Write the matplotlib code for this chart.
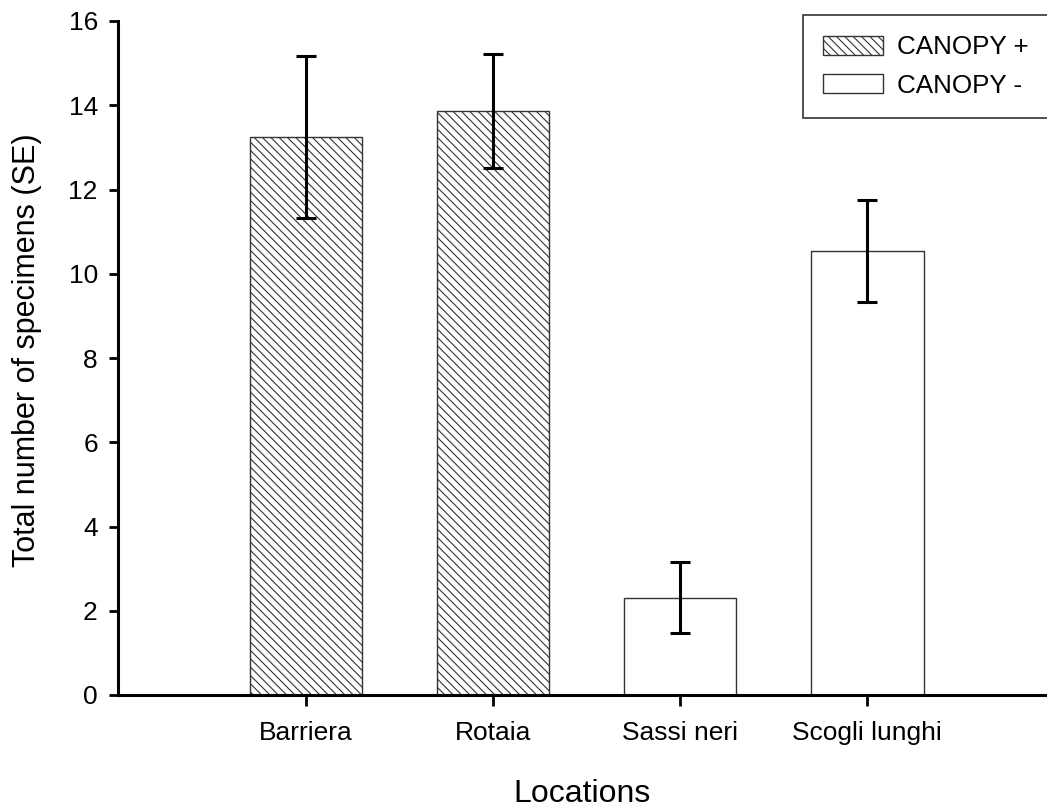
import matplotlib
matplotlib.use("Agg")
import matplotlib.pyplot as plt
import numpy as np
from matplotlib.patches import Patch

locations = ["Barriera", "Rotaia", "Sassi neri", "Scogli lunghi"]
means = [13.25, 13.86, 2.31, 10.53]
se = [1.93, 1.36, 0.85, 1.21]
canopy = ["CANOPY +", "CANOPY +", "CANOPY -", "CANOPY -"]

plt.rcParams['font.family'] = ['Liberation Sans', 'DejaVu Sans']
plt.rcParams['hatch.linewidth'] = 0.8
plt.rcParams['hatch.color'] = '#333333'

fig = plt.figure(figsize=(10.47, 8.09), dpi=100)
ax = fig.add_axes([118/1047, 1-695/809, 1-118/1047, (695-21)/809])

x = np.arange(len(locations))
for xi, m, e, c in zip(x, means, se, canopy):
    hatch = '\\\\\\\\' if c == "CANOPY +" else None
    ax.bar(xi, m, width=0.6, color='white', edgecolor='#333333', linewidth=1.0,
           hatch=hatch, zorder=2)
    ax.errorbar(xi, m, yerr=e, fmt='none', ecolor='black', elinewidth=2.2,
                capsize=7.5, capthick=2.2, zorder=3)

ax.set_xlim(-1.005, 3.96)
ax.set_ylim(0, 16)
ax.set_yticks(np.arange(0, 17, 2))
ax.set_xticks(x)
ax.set_xticklabels(locations)

for s in ['top', 'right']:
    ax.spines[s].set_visible(False)
for s in ['left', 'bottom']:
    ax.spines[s].set_linewidth(2.2)

ax.tick_params(axis='y', direction='out', length=6.5, width=2, labelsize=19, pad=8)
ax.tick_params(axis='x', direction='out', length=8, width=2, labelsize=19, pad=11)

ax.set_ylabel("Total number of specimens (SE)", fontsize=22)
ax.yaxis.set_label_coords(-0.082, 0.512)
ax.set_xlabel("Locations", fontsize=23, labelpad=24)

handles = [Patch(facecolor='white', edgecolor='#333333', hatch='\\\\\\\\', linewidth=1.0),
           Patch(facecolor='white', edgecolor='#333333', linewidth=1.0)]
leg = fig.legend(handles, ["CANOPY +", "CANOPY -"], loc='upper left',
                 bbox_to_anchor=(803/1047, 1-15/809), bbox_transform=fig.transFigure,
                 fontsize=18.7, frameon=True, fancybox=False, edgecolor='black',
                 handlelength=2.3, handleheight=0.75, handletextpad=0.55,
                 borderpad=0.78, labelspacing=0.55, borderaxespad=0)
leg.get_frame().set_linewidth(1.2)

fig.savefig("out.png", dpi=100)
